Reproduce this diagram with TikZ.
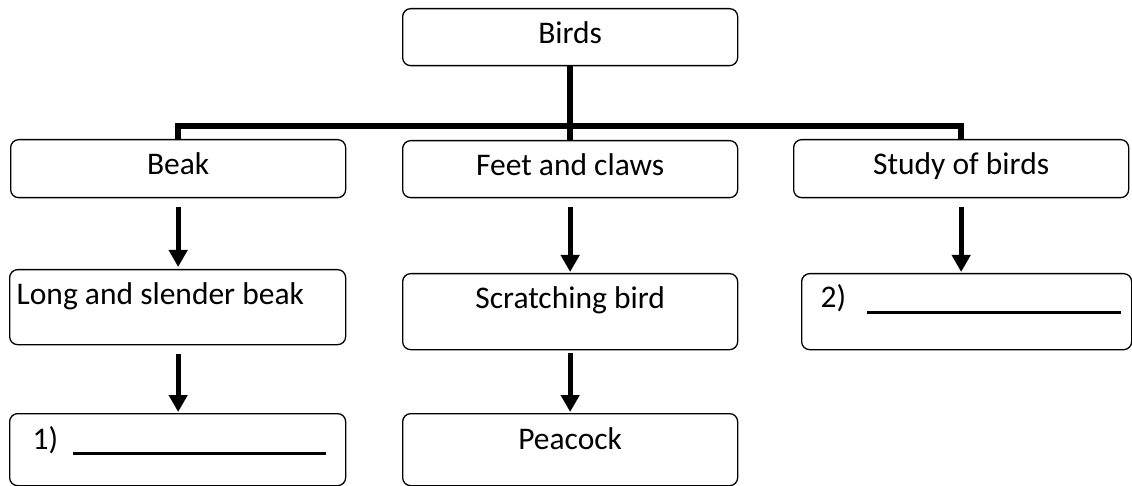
\documentclass[tikz,border=0pt]{standalone}
\usepackage{fontspec}
\setmainfont{Carlito}
\usetikzlibrary{arrows.meta,calc}
\tikzset{
  box/.style={draw, line width=1.3pt, rounded corners=8pt, anchor=north west,
    inner xsep=0pt, inner ysep=0pt, font=\fontsize{31.5pt}{38pt}\selectfont},
  tree/.style={line width=6pt, line join=miter},
  arr/.style={line width=5pt, -{Triangle[width=18pt,length=17pt]}}
}
\begin{document}
\begin{tikzpicture}[x=1pt,y=-1pt]
\useasboundingbox (0,0) rectangle (1132,486);
% top
\node[box, minimum width=335pt, text height=35pt, text depth=22pt] (birds) at (402,8) {Birds};
% second row
\node[box, minimum width=335pt, text height=35pt, text depth=23pt] (beak) at (10,139) {Beak};
\node[box, minimum width=335pt, text height=35pt, text depth=22pt] (feet) at (402,140) {Feet and claws};
\node[box, minimum width=335pt, text height=35pt, text depth=23pt] (study) at (793,139) {Study of birds};
% third row
\node[box, text height=35pt, text depth=40pt] (long) at (9,269) {\makebox[336pt][l]{\hspace*{7pt}Long and slender beak}};
\node[box, minimum width=335pt, text height=35pt, text depth=41pt] (scratch) at (402,273) {Scratching bird};
\node[box, text height=34pt, text depth=42pt] (two) at (801,273) {\makebox[330pt][l]{\hspace*{19pt}2)\hspace{21pt}\rule[-6.5pt]{254pt}{3.5pt}}};
% fourth row
\node[box, text height=36pt, text depth=36pt] (one) at (9,413) {\makebox[336pt][l]{\hspace*{23pt}1)\hspace{15pt}\rule[-5.5pt]{253pt}{3.5pt}}};
\node[box, minimum width=335pt, text height=36pt, text depth=36pt] (peacock) at (402,413) {Peacock};
% tree connector
\draw[tree] (birds.south) -- (feet.north);
\draw[tree] (beak.north) -- ++(0,-13) -| (study.north);
% arrows
\draw[arr, shorten <=9pt, shorten >=2pt] (beak.south) -- (beak.south |- long.north);
\draw[arr, shorten <=9pt, shorten >=1pt] (feet.south) -- (feet.south |- scratch.north);
\draw[arr, shorten <=9pt, shorten >=1pt] (study.south) -- (study.south |- two.north);
\draw[arr, shorten <=9pt, shorten >=1pt] (beak.south |- long.south) -- (beak.south |- one.north);
\draw[arr, shorten <=3pt, shorten >=1pt] (scratch.south) -- (scratch.south |- peacock.north);
\end{tikzpicture}
\end{document}
